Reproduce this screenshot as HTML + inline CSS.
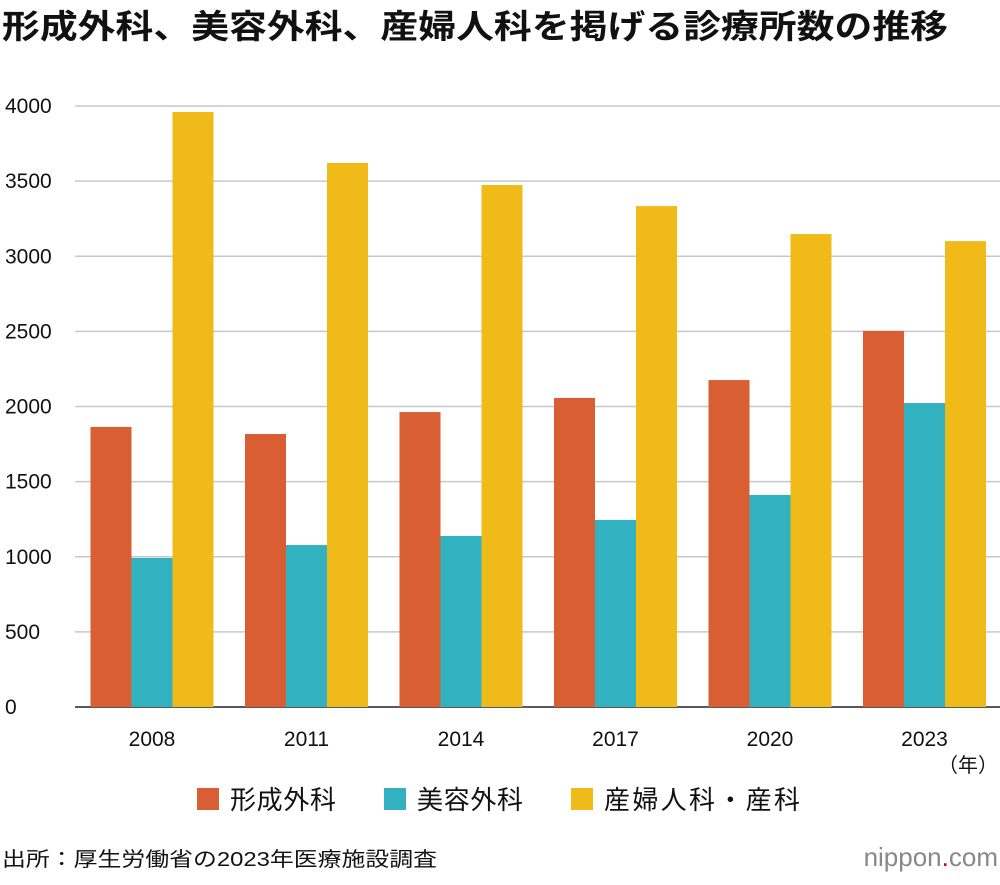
<!DOCTYPE html>
<html><head><meta charset="utf-8"><style>
body{margin:0;background:#fff;width:1000px;height:880px;overflow:hidden;font-family:"Liberation Sans","Noto Sans CJK JP",sans-serif;}
</style></head><body>
<svg width="1000" height="880" xmlns="http://www.w3.org/2000/svg" font-family="Liberation Sans, Noto Sans CJK JP, sans-serif">
<text x="2" y="38" font-size="33" font-weight="bold" fill="#111" textLength="946" lengthAdjust="spacingAndGlyphs">形成外科、美容外科、産婦人科を掲げる診療所数の推移</text>
<g id="grid"></g><g id="bars"></g><g id="xlabels"></g>
<text x="998" y="772" font-size="20" text-anchor="end" fill="#111">（年）</text>
<g>
<rect x="197" y="788" width="22" height="22" fill="#da5e34"/><text x="230" y="809" font-size="26" fill="#111" textLength="106">形成外科</text>
<rect x="384" y="788" width="22" height="22" fill="#32b1c0"/><text x="417" y="809" font-size="26" fill="#111" textLength="106">美容外科</text>
<rect x="571" y="788" width="22" height="22" fill="#f0bb18"/><text x="604" y="809" font-size="26" fill="#111" textLength="196">産婦人科・産科</text>
</g>
<text x="2" y="866" font-size="20" fill="#111" textLength="435" lengthAdjust="spacingAndGlyphs">出所：厚生労働省の2023年医療施設調査</text>
<text x="998" y="866" font-size="26" text-anchor="end" fill="#888">nippon<tspan fill="#d0021b">.</tspan>com</text>
</svg>
<script>
const categories=["2008","2011","2014","2017","2020","2023"];
const plastic=[1864,1817,1963,2057,2176,2503];
const cosmetic=[992,1078,1138,1245,1411,2023];
const obgyn=[3960,3621,3474,3334,3148,3101];
const ticks=[0,500,1000,1500,2000,2500,3000,3500,4000];
const NS="http://www.w3.org/2000/svg";
const y=v=>707-v*601/4000;
const gx=i=>152+i*154.5;
const g=document.getElementById('grid');
ticks.forEach(t=>{
 const l=document.createElementNS(NS,'line');
 l.setAttribute('x1',75);l.setAttribute('x2',1000);l.setAttribute('y1',y(t));l.setAttribute('y2',y(t));
 l.setAttribute('stroke',t===0?'#222':'#c8c8c8');l.setAttribute('stroke-width',1.5);
 
 
 g.appendChild(l);
 const tx=document.createElementNS(NS,'text');
 tx.setAttribute('x',5);tx.setAttribute('y',y(t)+7);tx.setAttribute('font-size',21);tx.setAttribute('fill','#111');
 tx.textContent=t;
 
 
 g.appendChild(tx);
});
const b=document.getElementById('bars');
const series=[[plastic,'#da5e34','plastic'],[cosmetic,'#32b1c0','cosmetic'],[obgyn,'#f0bb18','obgyn']];
categories.forEach((c,i)=>{
 series.forEach((s,j)=>{
  const r=document.createElementNS(NS,'rect');
  r.setAttribute('x',gx(i)-61.5+j*41);r.setAttribute('width',41);
  r.setAttribute('y',y(s[0][i]));r.setAttribute('height',707-y(s[0][i]));
  r.setAttribute('fill',s[1]);
  
  
  b.appendChild(r);
 });
 const tx=document.createElementNS(NS,'text');
 tx.setAttribute('x',gx(i));tx.setAttribute('y',746);tx.setAttribute('font-size',21);tx.setAttribute('text-anchor','middle');tx.setAttribute('fill','#111');
 tx.textContent=c;
 
 
 document.getElementById('xlabels').appendChild(tx);
});
</script>
</body></html>
